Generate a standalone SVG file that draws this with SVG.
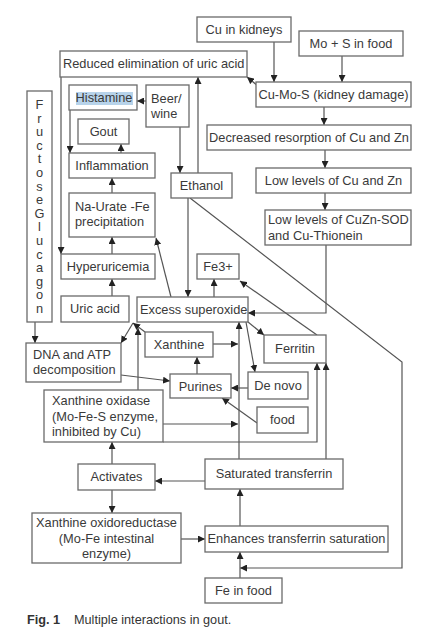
<svg xmlns="http://www.w3.org/2000/svg" width="430" height="640" viewBox="0 0 430 640">
<style>
.b{fill:#fff;stroke:#6a6a6a;stroke-width:1.3}
.t{font-family:"Liberation Sans",Arial,sans-serif;font-size:12.8px;fill:#3a3a3a}
.c{text-anchor:middle}
.l{fill:none;stroke:#555;stroke-width:1.2}
.cap{font-family:"Liberation Sans",Arial,sans-serif;font-size:12.7px;fill:#333}
</style>
<defs>
<marker id="a" markerWidth="7" markerHeight="7" refX="7" refY="3.5" orient="auto" markerUnits="userSpaceOnUse">
<path d="M0,0 L7,3.5 L0,7 z" fill="#222"/>
</marker>
</defs>
<rect width="430" height="640" fill="#fff"/>

<g id="connectors" class="l" marker-end="url(#a)">
<path d="M274,42 V82"/>
<path d="M342,56 V82"/>
<path d="M258,86 L247,77"/>
<path d="M324,107 V125"/>
<path d="M325,150 V168"/>
<path d="M325,193 V210"/>
<path d="M326,245 V313 H248"/>
<path d="M146,101 H137"/>
<path d="M180,127 V173"/>
<path d="M198,173 V77"/>
<path d="M188,198 V297"/>
<path d="M190,198 L402,362 V568 H240"/>
<path d="M70,110 V153"/>
<path d="M121,153 V144"/>
<path d="M112,193 V178"/>
<path d="M112,254 V237"/>
<path d="M112,296 V279"/>
<path d="M61,77 V254"/>
<path d="M171,297 L156,238"/>
<path d="M214,297 V279"/>
<path d="M317,335 L240,281"/>
<path d="M35,322 V343"/>
<path d="M133,323 L121,343"/>
<path d="M145,332 L133,323"/>
<path d="M138,390 V328"/>
<path d="M248,322 L264,335"/>
<path d="M246,322 L255,372"/>
<path d="M213,344 H238"/>
<path d="M239,459 V322"/>
<path d="M197,374 V357"/>
<path d="M248,388 H231"/>
<path d="M257,423 L222,398"/>
<path d="M121,375 L170,381"/>
<path d="M163,424 H238"/>
<path d="M163,442 H317 V363"/>
<path d="M326,459 V363"/>
<path d="M205,481 H155"/>
<path d="M112,464 V442"/>
<path d="M112,490 V513"/>
<path d="M181,539 H205"/>
<path d="M240,526 V489"/>
<path d="M240,578 V552"/>
</g>

<g id="cu-kidneys"><rect class="b" x="197" y="17" width="94" height="25"/><text class="t c" x="244" y="34">Cu in kidneys</text></g>
<g id="mo-s-food"><rect class="b" x="299" y="31" width="104" height="25"/><text class="t c" x="351" y="48">Mo + S in food</text></g>
<g id="reduced-elim"><rect class="b" x="60" y="51" width="187" height="26"/><text class="t" x="63" y="68">Reduced elimination of uric acid</text></g>
<g id="histamine"><rect class="b" x="69" y="85" width="68" height="25"/><rect x="76" y="92" width="57" height="13" fill="#b7d3ea"/><text class="t c" x="104" y="102">Histamine</text></g>
<g id="beer-wine"><rect class="b" x="146" y="85" width="43" height="42"/><text class="t" x="151" y="103">Beer/</text><text class="t" x="151" y="118">wine</text></g>
<g id="gout"><rect class="b" x="78" y="119" width="51" height="25"/><text class="t c" x="103.5" y="136">Gout</text></g>
<g id="inflammation"><rect class="b" x="69" y="153" width="86" height="25"/><text class="t c" x="112" y="170">Inflammation</text></g>
<g id="ethanol"><rect class="b" x="171" y="173" width="61" height="25"/><text class="t c" x="201.5" y="190">Ethanol</text></g>
<g id="na-urate"><rect class="b" x="69" y="193" width="86" height="44"/><text class="t" x="75" y="211">Na-Urate -Fe</text><text class="t" x="75" y="226">precipitation</text></g>
<g id="hyperuricemia"><rect class="b" x="61" y="254" width="94" height="25"/><text class="t c" x="108" y="271">Hyperuricemia</text></g>
<g id="fe3"><rect class="b" x="197" y="254" width="42" height="25"/><text class="t c" x="218" y="271">Fe3+</text></g>
<g id="uric-acid"><rect class="b" x="61" y="296" width="68" height="26"/><text class="t c" x="95" y="313">Uric acid</text></g>
<g id="superoxide"><rect class="b" x="137" y="297" width="111" height="25"/><text class="t" x="140" y="314">Excess superoxide</text></g>
<g id="fructose-glucagon"><rect class="b" x="27" y="91" width="25" height="231"/>
<text class="t c" x="39.5" y="109">F</text><text class="t c" x="39.5" y="122.6">r</text><text class="t c" x="39.5" y="136.2">u</text><text class="t c" x="39.5" y="149.8">c</text><text class="t c" x="39.5" y="163.4">t</text><text class="t c" x="39.5" y="177">o</text><text class="t c" x="39.5" y="190.6">s</text><text class="t c" x="39.5" y="204.2">e</text><text class="t c" x="39.5" y="217.8">G</text><text class="t c" x="39.5" y="231.4">l</text><text class="t c" x="39.5" y="245">u</text><text class="t c" x="39.5" y="258.6">c</text><text class="t c" x="39.5" y="272.2">a</text><text class="t c" x="39.5" y="285.8">g</text><text class="t c" x="39.5" y="299.4">o</text><text class="t c" x="39.5" y="313">n</text></g>
<g id="dna-atp"><rect class="b" x="26" y="343" width="95" height="39"/><text class="t" x="33" y="359">DNA and ATP</text><text class="t" x="33" y="374">decomposition</text></g>
<g id="xanthine"><rect class="b" x="145" y="332" width="68" height="25"/><text class="t c" x="179" y="349">Xanthine</text></g>
<g id="ferritin"><rect class="b" x="264" y="335" width="62" height="28"/><text class="t c" x="295" y="353">Ferritin</text></g>
<g id="purines"><rect class="b" x="170" y="374" width="61" height="24"/><text class="t c" x="200.5" y="391">Purines</text></g>
<g id="de-novo"><rect class="b" x="248" y="372" width="60" height="27"/><text class="t c" x="278" y="390">De novo</text></g>
<g id="food"><rect class="b" x="257" y="407" width="51" height="26"/><text class="t c" x="282.5" y="424">food</text></g>
<g id="xanthine-oxidase"><rect class="b" x="44" y="390" width="119" height="52"/><text class="t" x="52" y="405">Xanthine oxidase</text><text class="t" x="52" y="421">(Mo-Fe-S enzyme,</text><text class="t" x="52" y="436">inhibited by Cu)</text></g>
<g id="activates"><rect class="b" x="78" y="464" width="77" height="26"/><text class="t c" x="116.5" y="481">Activates</text></g>
<g id="saturated-transferrin"><rect class="b" x="205" y="459" width="138" height="30"/><text class="t c" x="274" y="478">Saturated transferrin</text></g>
<g id="xanthine-oxidoreductase"><rect class="b" x="32" y="513" width="149" height="50"/><text class="t c" x="106.5" y="527">Xanthine oxidoreductase</text><text class="t c" x="106.5" y="543">(Mo-Fe intestinal</text><text class="t c" x="106.5" y="558">enzyme)</text></g>
<g id="enhances"><rect class="b" x="205" y="526" width="183" height="26"/><text class="t c" x="296.5" y="543">Enhances transferrin saturation</text></g>
<g id="fe-food"><rect class="b" x="205" y="578" width="77" height="25"/><text class="t c" x="243.5" y="595">Fe in food</text></g>
<g id="cu-mo-s"><rect class="b" x="256" y="82" width="155" height="25"/><text class="t c" x="333.5" y="99">Cu-Mo-S (kidney damage)</text></g>
<g id="decreased"><rect class="b" x="207" y="125" width="204" height="25"/><text class="t c" x="309" y="142">Decreased resorption of Cu and Zn</text></g>
<g id="low-cu-zn"><rect class="b" x="256" y="168" width="155" height="25"/><text class="t c" x="333.5" y="185">Low levels of Cu and Zn</text></g>
<g id="low-sod"><rect class="b" x="265" y="210" width="146" height="35"/><text class="t" x="268" y="224">Low levels of CuZn-SOD</text><text class="t" x="268" y="240">and Cu-Thionein</text></g>

<text class="cap" x="27" y="624" font-weight="bold">Fig. 1</text>
<text class="cap" x="74" y="624">Multiple interactions in gout.</text>
</svg>
